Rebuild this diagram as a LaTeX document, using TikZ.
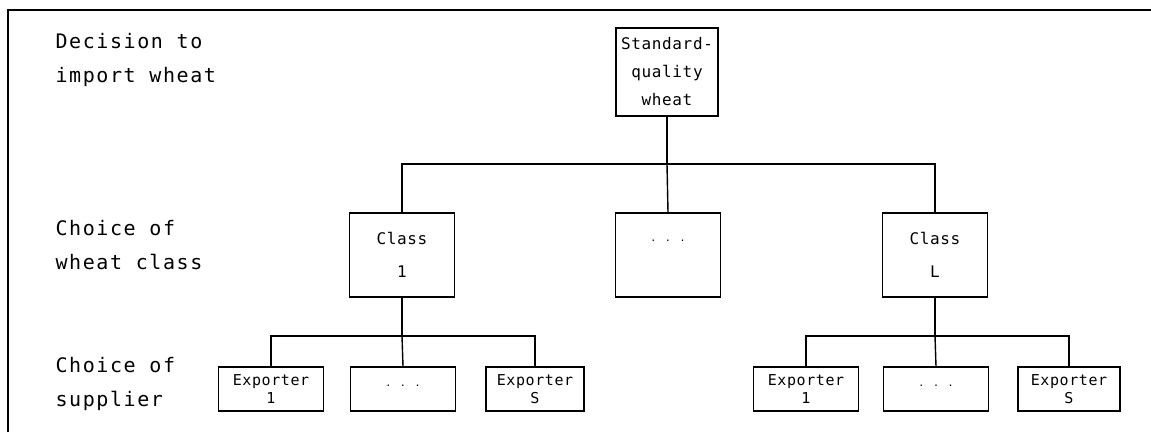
\documentclass[tikz,border=0pt]{standalone}
\usepackage{fontspec}
\newfontfamily\plotfont[LetterSpace=8]{DejaVu Sans Mono}
\newfontfamily\boxfont[LetterSpace=4]{DejaVu Sans Mono}
\usetikzlibrary{positioning}
\tikzset{
  stage/.style={draw, line width=1.4pt, align=center, inner sep=2pt,
    font=\boxfont\fontsize{16}{28}\selectfont},
  clsbox/.style={stage, minimum width=105pt, minimum height=84pt,
    font=\boxfont\fontsize{16}{33}\selectfont},
  expbox/.style={stage, minimum width=105pt, minimum height=44pt,
    font=\boxfont\fontsize{15}{18}\selectfont},
  dots/.style={font=\boxfont\fontsize{10}{12}\selectfont},
  lvl/.style={anchor=west, align=left, font=\plotfont\fontsize{20}{34}\selectfont},
  link/.style={line width=1.4pt},
}

\begin{document}
\begin{tikzpicture}[x=1pt, y=-1pt]
    \useasboundingbox (0,0) rectangle (1151,432);
    \draw[line width=2.4pt] (8,432) -- (8,10) -- (1151,10);
    % level labels
    \node[lvl] (lv1) at (52,60) {Decision to\\import wheat};
    \node[lvl] (lv2) at (52,245) {Choice of\\wheat class};
    \node[lvl] (lv3) at (52,384) {Choice of\\supplier};
    % tree
    \node[stage, minimum width=102pt, minimum height=88pt] (root) at (667,72) {Standard-\\quality\\wheat};
    \node[clsbox] (c1) at (402,255) {Class\\1};
    \node[clsbox, dots, text depth=28pt] (cm) at (668,255) {. . .};
    \node[clsbox] (cL) at (935,255) {Class\\L};
    \node[expbox] (e11) at (271,389) {Exporter\\1};
    \node[expbox, dots, text depth=6pt] (e1m) at (403,389) {. . .};
    \node[expbox, minimum width=98pt] (e1s) at (535,389) {Exporter\\S};
    \node[expbox] (eL1) at (806,389) {Exporter\\1};
    \node[expbox, dots, text depth=6pt] (eLm) at (936,389) {. . .};
    \node[expbox, minimum width=102pt] (eLs) at (1069,389) {Exporter\\S};
    \coordinate (j0) at (667,164);
    \coordinate (j1) at (402,336);
    \coordinate (jL) at (935,336);
    \draw[link] (root) -- (j0);
    \draw[link] (j0) -| (c1.north);
    \draw[link] (j0) -- (cm.north);
    \draw[link] (j0) -| (cL.north);
    \draw[link] (c1) -- (j1);
    \draw[link] (j1) -| (e11.north);
    \draw[link] (j1) -- (e1m.north);
    \draw[link] (j1) -| (e1s.north);
    \draw[link] (cL) -- (jL);
    \draw[link] (jL) -| (eL1.north);
    \draw[link] (jL) -- (eLm.north);
    \draw[link] (jL) -| (eLs.north);
  \end{tikzpicture}
\end{document}
